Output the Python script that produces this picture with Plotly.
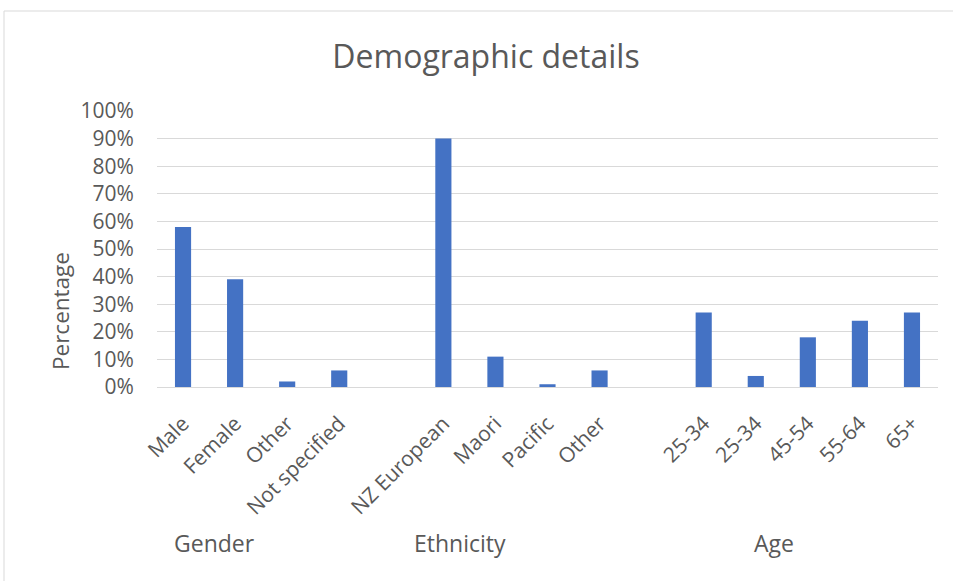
import plotly.graph_objects as go

# Category slots (blank slots separate the three groups)
categories = ["Male", "Female", "Other", "Not specified", "",
              "NZ European", "Maori", "Pacific", "Other", "",
              "25-34", "25-34", "45-54", "55-64", "65+"]
percentages = [58, 39, 2, 6, None,
               90, 11, 1, 6, None,
               27, 4, 18, 24, 27]
groups = ["Gender", "Ethnicity", "Age"]
group_label_x = [0.61, 5.32, 11.35]
y_ticks = [0, 10, 20, 30, 40, 50, 60, 70, 80, 90, 100]

FONT = "Open Sans"
TEXT = "#595959"
GRID = "#d9d9d9"

positions = list(range(len(categories)))
values = [None if v is None else v / 100 for v in percentages]

fig = go.Figure(go.Bar(
    x=positions,
    y=values,
    width=0.31,
    marker=dict(color="#4472C4", line=dict(width=0)),
    hovertemplate="%{y:.0%}<extra></extra>",
))

annotations = [
    dict(text="Percentage", x=(60 - 157) / 781, y=(387 - 311) / 276,
         xref="paper", yref="paper",
         textangle=-90, showarrow=False, xanchor="center", yanchor="middle",
         font=dict(family=FONT, size=22.5, color=TEXT)),
]
for name, gx in zip(groups, group_label_x):
    annotations.append(dict(
        text=name, x=gx, y=(387 - 543) / 276, xref="x", yref="paper",
        showarrow=False, xanchor="center", yanchor="middle",
        font=dict(family=FONT, size=23, color=TEXT)))

fig.update_layout(
    width=953, height=581,
    margin=dict(l=157, r=15, t=111, b=194),
    paper_bgcolor="white", plot_bgcolor="white",
    showlegend=False,
    font=dict(family=FONT, color=TEXT),
    title=dict(text="Demographic details", x=486 / 953, xanchor="center",
               y=1 - 57 / 581, yanchor="middle", yref="container",
               font=dict(family=FONT, size=32, color=TEXT)),
    xaxis=dict(
        range=[-0.5, len(categories) - 0.5],
        tickmode="array", tickvals=positions, ticktext=categories,
        tickangle=-45, ticks="outside", ticklen=15, tickcolor="rgba(0,0,0,0)",
        tickfont=dict(family=FONT, size=21, color=TEXT),
        showgrid=False, showline=True, linecolor=GRID, linewidth=1,
        zeroline=False,
    ),
    yaxis=dict(
        range=[0, 1],
        tickmode="array", tickvals=[t / 100 for t in y_ticks],
        ticktext=[f"{t}%" for t in y_ticks],
        tickfont=dict(family=FONT, size=21, color=TEXT),
        ticks="outside", ticklen=18, tickcolor="rgba(0,0,0,0)",
        showgrid=True, gridcolor=GRID, gridwidth=1,
        zeroline=False, showline=False,
    ),
    annotations=annotations,
    shapes=[dict(type="rect", xref="paper", yref="paper",
                 x0=(4 - 157) / 781, x1=(960 - 157) / 781,
                 y0=(387 - 590) / 276, y1=(387 - 11) / 276,
                 line=dict(color=GRID, width=1), fillcolor="rgba(0,0,0,0)",
                 layer="below")],
)

fig.write_html("out.html")
